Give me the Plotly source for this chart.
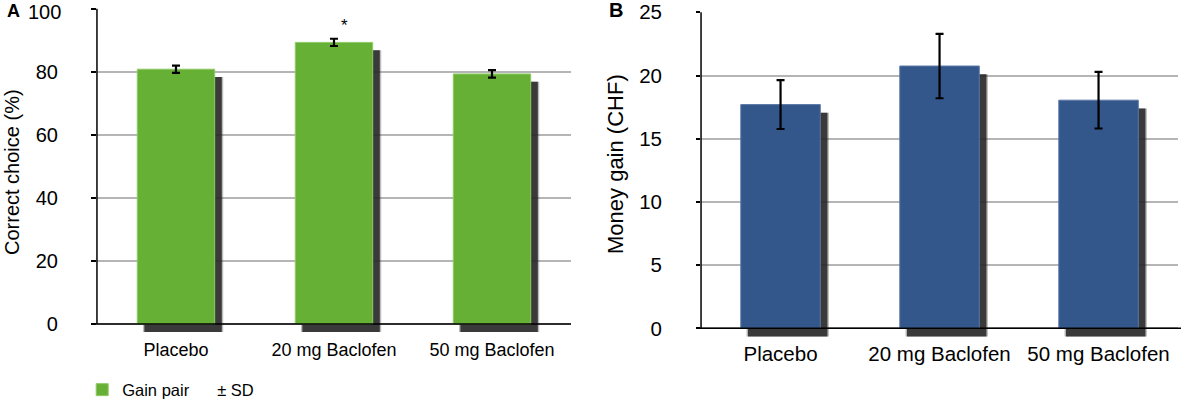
import plotly.graph_objects as go

categories = ["Placebo", "20 mg Baclofen", "50 mg Baclofen"]
correct_choice = [80.8, 89.3, 79.3]          # panel A, % correct
correct_choice_sd = [1.15, 1.15, 1.2]
money_gain = [17.7, 20.75, 18.05]            # panel B, CHF
money_gain_sd = [1.93, 2.55, 2.24]
a_ticks = [0, 20, 40, 60, 80, 100]
b_ticks = [0, 5, 10, 15, 20, 25]

FONT = "Liberation Sans, Arial, Helvetica, sans-serif"
GREEN = "#67b036"
BLUE = "#33578a"
GRID = "#b5b5b5"


def _shadow(x, y, base, xa, ya, width, shift):
    """Soft drop shadow behind a bar: a faint halo plus a darker core."""
    out = []
    for extra, col in [(0.018, "rgba(60,60,60,0.35)"), (0.0, "rgba(35,35,35,0.85)")]:
        out.append(go.Bar(
            x=x, y=y, base=base, width=width + extra, offset=-width / 2 + shift - extra / 2,
            marker=dict(color=col, line=dict(width=0)), xaxis=xa, yaxis=ya,
            showlegend=False, hoverinfo="skip"))
    return out


def _label(text, x, y, size, xanchor="center", **kw):
    """Free text placed in pixel coordinates of the 1181x407 page."""
    return dict(text=text, xref="paper", yref="paper", x=x / 1181, y=1 - y / 407,
                xanchor=xanchor, yanchor="middle", showarrow=False,
                font=dict(size=size), **kw)


fig = go.Figure()

# panel A
for t in _shadow(categories, correct_choice, -2.5, "x", "y", 0.49, 0.045):
    fig.add_trace(t)
fig.add_trace(go.Bar(
    x=categories, y=correct_choice, width=0.49, offset=-0.245, name="Gain pair",
    marker=dict(color=GREEN, line=dict(width=1, color="#8fca66")),
    error_y=dict(type="data", array=correct_choice_sd, color="black", thickness=2.2, width=4),
    xaxis="x", yaxis="y"))

# panel B
for t in _shadow(categories, money_gain, -0.65, "x2", "y2", 0.5, 0.045):
    fig.add_trace(t)
fig.add_trace(go.Bar(
    x=categories, y=money_gain, width=0.5, offset=-0.25, showlegend=False,
    marker=dict(color=BLUE, line=dict(width=1, color="#5a78a6")),
    error_y=dict(type="data", array=money_gain_sd, color="black", thickness=2.2, width=4),
    xaxis="x2", yaxis="y2"))

# "± SD" legend entry (text only)
fig.add_trace(go.Scatter(x=[None], y=[None], mode="lines", name="± SD",
                         line=dict(width=0, color="white"), xaxis="x", yaxis="y"))

# the top label of panel A sits a little lower than its tick in the original (page edge),
# so it is written as a separate text and left blank on the axis
a_ticktext = [str(v) for v in a_ticks[:-1]] + [""]

axis_common = dict(showline=False, zeroline=False, color="black")
fig.update_layout(
    width=1181, height=407, barmode="overlay",
    paper_bgcolor="white", plot_bgcolor="white",
    margin=dict(l=0, r=0, t=0, b=0, autoexpand=False),
    font=dict(family=FONT, color="black"),
    xaxis=dict(domain=[0.0821, 0.4835], type="category", categoryarray=categories,
               range=[-0.5, 2.5], showgrid=False, ticks="", tickfont=dict(size=18),
               ticklabelstandoff=4, **axis_common),
    yaxis=dict(domain=[0.1806, 0.9803], range=[-3, 100.2], tickvals=a_ticks,
               ticktext=a_ticktext,
               showgrid=True, gridcolor=GRID, gridwidth=1.5, ticks="outside", ticklen=5,
               tickwidth=1.5, tickcolor="black", tickfont=dict(size=20),
               ticklabelstandoff=29, ticklabeloverflow="allow", **axis_common),
    xaxis2=dict(domain=[0.5936, 0.9975], type="category", categoryarray=categories,
                range=[-0.5, 2.5], showgrid=False, ticks="", tickfont=dict(size=20.5),
                ticklabelstandoff=2, anchor="y2", **axis_common),
    yaxis2=dict(domain=[0.170, 0.9713], range=[-0.75, 25.05], tickvals=b_ticks,
                showgrid=True, gridcolor=GRID, gridwidth=1.5, ticks="outside", ticklen=4,
                tickwidth=1.5, tickcolor="black", tickfont=dict(size=20.5),
                ticklabelstandoff=30, ticklabeloverflow="allow", anchor="x2", **axis_common),
    legend=dict(orientation="h", x=0.0696, xanchor="left", y=0.042, yanchor="middle",
                font=dict(size=16.5), bgcolor="rgba(0,0,0,0)", entrywidth=50,
                entrywidthmode="pixels"),
    shapes=[
        dict(type="line", xref="x domain", yref="y", x0=0, x1=0, y0=0, y1=100,
             line=dict(color="black", width=1.5), layer="above"),
        dict(type="line", xref="x domain", yref="y", x0=-0.009, x1=1, y0=0, y1=0,
             line=dict(color="black", width=1.5), layer="above"),
        dict(type="line", xref="x2 domain", yref="y2", x0=0, x1=0, y0=0, y1=25,
             line=dict(color="black", width=1.5), layer="above"),
        dict(type="line", xref="x2 domain", yref="y2", x0=-0.01, x1=1.01, y0=0, y1=0,
             line=dict(color="black", width=1.5), layer="above"),
    ],
    annotations=[
        _label("<b>A</b>", 13.5, 11, 18),
        _label(str(a_ticks[-1]), 63, 12, 20, xanchor="right"),
        _label("<b>B</b>", 616, 10, 20),
        _label("Correct choice (%)", 12, 172, 20, textangle=-90),
        _label("Money gain (CHF)", 615, 164, 22, textangle=-90),
        dict(text="*", xref="x", yref="y", x=categories[1], y=94.5, xshift=11,
             showarrow=False, font=dict(size=17)),
    ],
)

# page body has an 8px default margin; drop it so the figure sits at the window origin
fig.write_html("out.html", config={"displayModeBar": False},
               post_script="document.body.style.margin='0';")
